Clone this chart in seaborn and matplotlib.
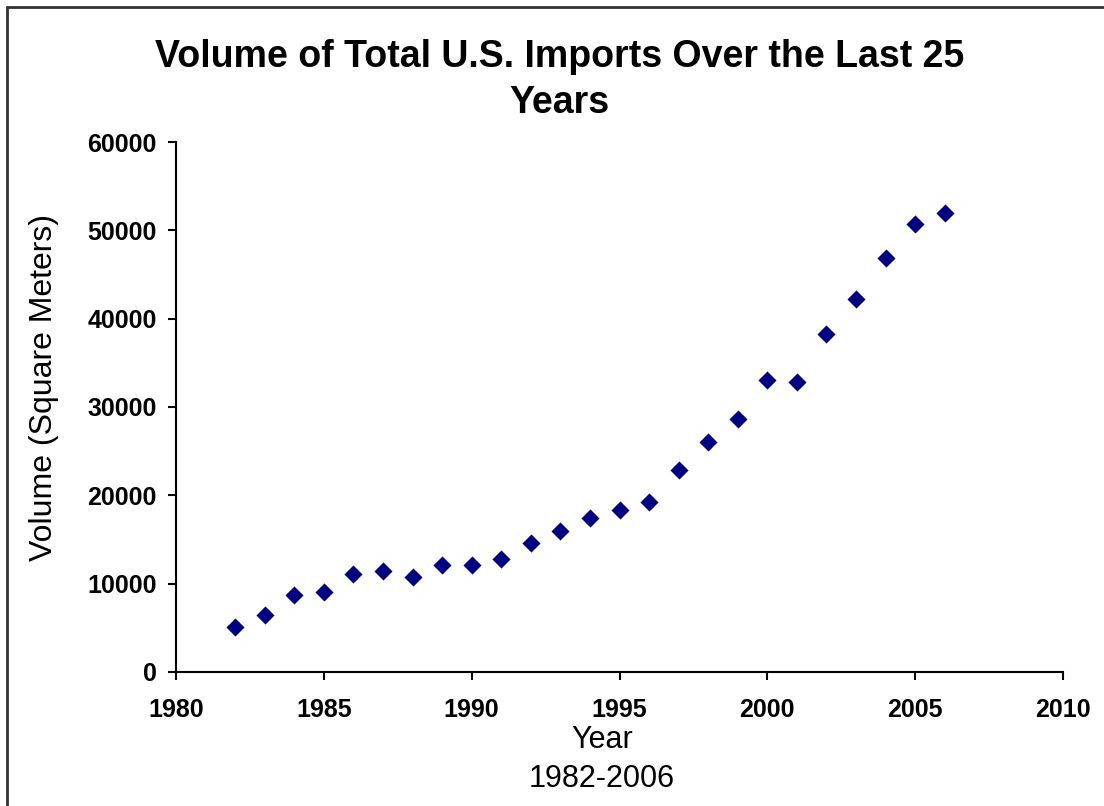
import matplotlib
matplotlib.use("Agg")
import matplotlib.pyplot as plt
import seaborn as sns
import pandas as pd
from matplotlib.lines import Line2D

years = [1982, 1983, 1984, 1985, 1986, 1987, 1988, 1989, 1990, 1991, 1992, 1993,
         1994, 1995, 1996, 1997, 1998, 1999, 2000, 2001, 2002, 2003, 2004, 2005, 2006]
volume = [5100, 6450, 8700, 9100, 11100, 11400, 10800, 12100, 12100, 12800, 14600, 16000,
          17400, 18300, 19200, 22900, 26000, 28600, 33000, 32800, 38300, 42200, 46900, 50700, 52000]
x_ticks = [1980, 1985, 1990, 1995, 2000, 2005, 2010]
y_ticks = [0, 10000, 20000, 30000, 40000, 50000, 60000]

sns.set_style("white")
plt.rcParams['font.family'] = ['Liberation Sans', 'DejaVu Sans']
plt.rcParams['text.color'] = 'black'
plt.rcParams['axes.labelcolor'] = 'black'
plt.rcParams['xtick.color'] = 'black'
plt.rcParams['ytick.color'] = 'black'

df = pd.DataFrame({"Year": years, "Volume": volume})

fig = plt.figure(figsize=(11.04, 8.06), dpi=100)
ax = fig.add_axes([0.1594, 0.1663, 0.8035, 0.6575])

sns.scatterplot(data=df, x="Year", y="Volume", marker="D", s=85, color="#000080",
                edgecolor="#000080", linewidth=0, ax=ax, zorder=3)

ax.set_xlim(1980, 2010)
ax.set_ylim(0, 60000)
ax.set_xticks(x_ticks)
ax.set_yticks(y_ticks)
ax.set_xticklabels([str(t) for t in x_ticks], fontsize=18, fontweight="bold")
ax.set_yticklabels([str(t) for t in y_ticks], fontsize=18, fontweight="bold")
ax.tick_params(axis="both", direction="out", length=6, width=1.5, color="black",
               bottom=True, left=True)
ax.tick_params(axis="x", pad=13)
ax.tick_params(axis="y", pad=8)

for side in ["top", "right"]:
    ax.spines[side].set_visible(False)
for side in ["left", "bottom"]:
    ax.spines[side].set_color("black")
    ax.spines[side].set_linewidth(1.5)

ax.set_xlabel("Year\n1982-2006", fontsize=22, linespacing=1.38)
ax.set_ylabel("Volume (Square Meters)", fontsize=23)
ax.xaxis.set_label_coords(0.480, -0.101)
ax.yaxis.set_label_coords(-0.132, 0.536)

fig.suptitle("Volume of Total U.S. Imports Over the Last 25\nYears", fontsize=27,
             fontweight="bold", x=0.507, y=0.951, linespacing=1.35)

# frame lines (left and top edges of the outer chart border)
fx = 7 / 1104
fy = 1 - 7 / 806
fig.add_artist(Line2D([fx, fx], [0, fy], transform=fig.transFigure, color="#333333", linewidth=2))
fig.add_artist(Line2D([fx, 1], [fy, fy], transform=fig.transFigure, color="#333333", linewidth=2))

fig.savefig("out.png", dpi=100)
